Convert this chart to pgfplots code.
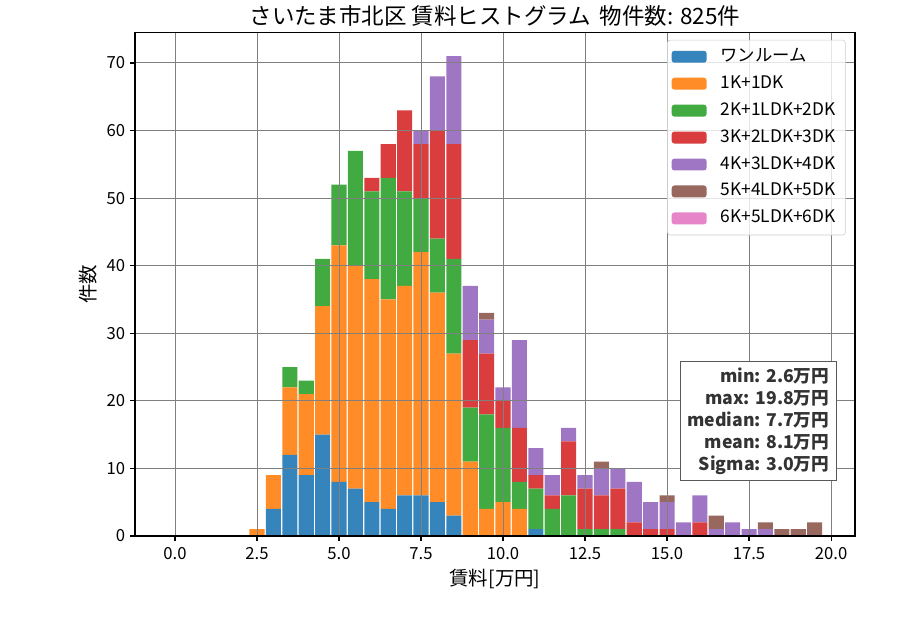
\documentclass[border=0pt]{standalone}
\usepackage{pgfplots}
\usepackage{pgfplotstable}
\pgfplotsset{compat=1.18}
\usepackage{fontspec}
\setmainfont{Noto Sans CJK JP}

\definecolor{cblue}{HTML}{3585BC}
\definecolor{corange}{HTML}{FF8C26}
\definecolor{cgreen}{HTML}{41AA41}
\definecolor{cred}{HTML}{DA3D3E}
\definecolor{cpurple}{HTML}{9F76C4}
\definecolor{cbrown}{HTML}{98675D}
\definecolor{cpink}{HTML}{E685C8}

\pgfplotstableread{
x    b  o  g  r  p  br pk
2.5  0  1  0  0  0  0  0
3.0  4  5  0  0  0  0  0
3.5  12 10 3  0  0  0  0
4.0  9  12 2  0  0  0  0
4.5  15 19 7  0  0  0  0
5.0  8  35 9  0  0  0  0
5.5  7  33 17 0  0  0  0
6.0  5  33 13 2  0  0  0
6.5  4  31 18 5  0  0  0
7.0  6  31 14 12 0  0  0
7.5  6  36 8  8  2  0  0
8.0  5  31 8  16 8  0  0
8.5  3  24 14 17 13 0  0
9.0  0  11 8  10 8  0  0
9.5  0  4  14 9  5  1  0
10.0 0  5  11 4  2  0  0
10.5 0  4  4  8  13 0  0
11.0 1  0  6  2  4  0  0
11.5 0  0  4  2  3  0  0
12.0 0  0  6  8  2  0  0
12.5 0  0  1  6  2  0  0
13.0 0  0  1  5  4  1  0
13.5 0  0  1  6  3  0  0
14.0 0  0  0  2  6  0  0
14.5 0  0  0  1  4  0  0
15.0 0  0  0  1  4  1  0
15.5 0  0  0  0  2  0  0
16.0 0  0  0  2  4  0  0
16.5 0  0  0  0  1  2  0
17.0 0  0  0  0  2  0  0
17.5 0  0  0  0  1  0  0
18.0 0  0  0  0  1  1  0
18.5 0  0  0  0  0  1  0
19.0 0  0  0  0  0  1  0
19.5 0  0  0  0  0  2  0
}\histdata

\begin{document}
\begin{tikzpicture}
\useasboundingbox (-97.2pt,-67.7pt) rectangle (550.8pt,385.9pt);
\begin{axis}[
  name=ax,
  at={(0,0)}, anchor=south west,
  scale only axis,
  width=518.4pt, height=362.7pt,
  xmin=-1.22, xmax=20.73, ymin=0, ymax=74.55,
  ybar stacked, bar width=0.46,
  every axis plot post/.append style={
    legend image code/.code={\fill[##1, draw=none, fill opacity=1] (0pt,-4.3pt) rectangle (25.2pt,4.3pt);}},
  axis on top,
  grid=major,
  major grid style={color=gray, line width=0.7pt},
  axis line style={line width=0.8pt, black},
  tick align=outside, tick pos=left,
  major tick length=3.5pt,
  every tick/.style={black, line width=0.8pt},
  xtick={0,2.5,5,7.5,10,12.5,15,17.5,20},
  xticklabels={0.0,2.5,5.0,7.5,10.0,12.5,15.0,17.5,20.0},
  ytick={0,10,20,30,40,50,60,70},
  yticklabels={0,10,20,30,40,50,60,70},
  tick label style={font=\fontsize{12}{14}\selectfont},
  xticklabel style={yshift=-1pt},
  title={さいたま市北区 賃料ヒストグラム\hspace{0.4em}物件数: 825件},
  title style={font=\fontsize{16.2}{19}\selectfont, at={(0.5,1)}, anchor=base, inner sep=0pt, yshift=-0.7pt},
  xlabel={賃料[万円]},
  ylabel={件数},
  label style={font=\fontsize{14}{16}\selectfont},
  legend cell align=left,
  legend style={at={(1,1)}, anchor=north east, xshift=-6.7pt, yshift=-5.5pt,
    draw=black!20, rounded corners=2pt, fill=white, fill opacity=0.8, text opacity=1,
    font=\fontsize{12.5}{14}\selectfont,
    inner xsep=3pt, inner ysep=5.2pt, row sep=5.9pt,
    nodes={text height=9pt, text depth=2.5pt, inner xsep=4pt, inner ysep=1pt},
    /tikz/every odd column/.append style={column sep=6pt}},
]
\addplot[fill=cblue, draw=none] table[x=x, y=b] {\histdata};
\addlegendentry{ワンルーム}
\addplot[fill=corange, draw=none] table[x=x, y=o] {\histdata};
\addlegendentry{1K+1DK}
\addplot[fill=cgreen, draw=none] table[x=x, y=g] {\histdata};
\addlegendentry{2K+1LDK+2DK}
\addplot[fill=cred, draw=none] table[x=x, y=r] {\histdata};
\addlegendentry{3K+2LDK+3DK}
\addplot[fill=cpurple, draw=none] table[x=x, y=p] {\histdata};
\addlegendentry{4K+3LDK+4DK}
\addplot[fill=cbrown, draw=none] table[x=x, y=br] {\histdata};
\addlegendentry{5K+4LDK+5DK}
\addplot[fill=cpink, draw=none] table[x=x, y=pk] {\histdata};
\addlegendentry{6K+5LDK+6DK}
\end{axis}
\node[draw=black!65, line width=0.7pt, fill=white, align=right, text=black!80,
  font=\bfseries\fontsize{12.7}{15.7}\selectfont,
  inner xsep=5pt, inner ysep=4.5pt, anchor=south east]
  at ([xshift=-13.2pt, yshift=39.6pt]ax.south east)
  {min: 2.6万円\\max: 19.8万円\\median: 7.7万円\\mean: 8.1万円\\Sigma: 3.0万円};
\end{tikzpicture}
\end{document}
